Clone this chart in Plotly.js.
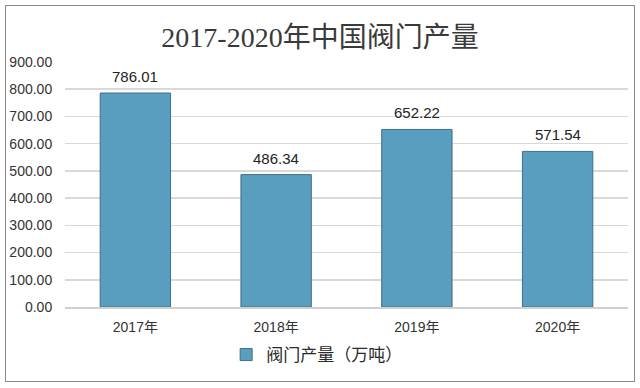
<!DOCTYPE html>
<html>
<head>
<meta charset="utf-8">
<script src="https://cdn.plot.ly/plotly-3.0.1.min.js"></script>
<style>
  html, body { margin: 0; padding: 0; background: #ffffff; }
  #wrap { position: relative; width: 640px; height: 388px; }
  #chart { width: 640px; height: 388px; }
  #frame { position: absolute; left: 5px; top: 5px; width: 628px; height: 375px;
           border: 1.5px solid #8a8a8a; pointer-events: none; }
</style>
</head>
<body>
<div id="wrap">
  <div id="chart"></div>
  <div id="frame"></div>
</div>
<script>
const categories = ["2017年", "2018年", "2019年", "2020年"];
const production = [786.01, 486.34, 652.22, 571.54];
const yTickValues = [0, 100, 200, 300, 400, 500, 600, 700, 800, 900];
const titleText = "2017-2020年中国阀门产量";
const seriesName = "阀门产量（万吨）";

const tickFont = { family: "Liberation Sans, Noto Sans CJK SC, sans-serif", size: 14, color: "#333333" };

const trace = {
  type: "bar",
  x: categories,
  y: production,
  name: seriesName,
  marker: { color: "#5a9ebf", line: { color: "#3f6f86", width: 1 } },
  hoverinfo: "skip"
};

const annotations = categories.map((c, i) => ({
  x: c, y: production[i], xref: "x", yref: "y",
  text: production[i].toFixed(2),
  showarrow: false, yanchor: "bottom", yshift: 6,
  font: { family: "Liberation Sans, Noto Sans CJK SC, sans-serif", size: 15, color: "#222222" }
}));

const layout = {
  width: 640,
  height: 388,
  margin: { l: 65, r: 12, t: 62, b: 81 },
  paper_bgcolor: "#ffffff",
  plot_bgcolor: "#ffffff",
  bargap: 0.5,
  showlegend: true,
  annotations: annotations,
  title: {
    text: titleText,
    font: { family: "Liberation Serif, Noto Sans CJK SC, serif", size: 28, color: "#3a3a3a" },
    x: 0.5, xref: "container", xanchor: "center",
    y: 1 - 37 / 388, yref: "container", yanchor: "middle"
  },
  xaxis: {
    type: "category",
    tickfont: tickFont,
    ticks: "outside", ticklen: 7, tickcolor: "rgba(0,0,0,0)",
    showline: true, linecolor: "#d0d0d0", linewidth: 1.5,
    showgrid: false, zeroline: false
  },
  yaxis: {
    range: [0, 900],
    tickvals: yTickValues,
    ticktext: yTickValues.map(v => v.toFixed(2)),
    tickfont: tickFont,
    ticks: "outside", ticklen: 9, tickcolor: "rgba(0,0,0,0)",
    showgrid: true, gridcolor: "#d9d9d9", gridwidth: 1.5,
    zeroline: false, showline: false
  },
  legend: {
    orientation: "h",
    x: 0.447, xanchor: "center",
    y: -0.196, yanchor: "middle",
    itemwidth: 30,
    font: { family: "Noto Sans CJK SC, sans-serif", size: 17, color: "#2a2a2a" },
    bgcolor: "rgba(0,0,0,0)"
  }
};

Plotly.newPlot("chart", [trace], layout, { staticPlot: true, displayModeBar: false });
</script>
</body>
</html>
